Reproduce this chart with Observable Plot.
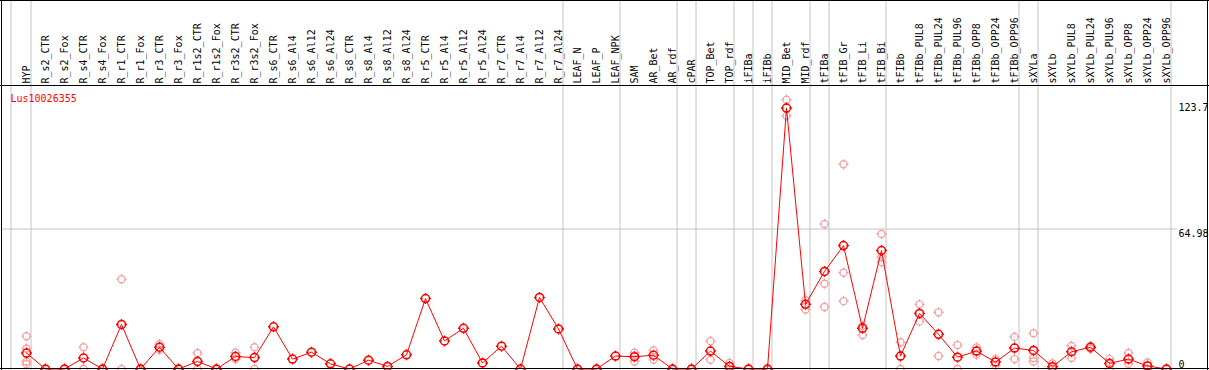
<!DOCTYPE html>
<html><head><meta charset="utf-8">
<script src="https://cdn.jsdelivr.net/npm/d3@7"></script>
<script src="https://cdn.jsdelivr.net/npm/@observablehq/plot@0.6"></script>
<style>body{margin:0;background:#fff;} svg{display:block;}</style>
</head><body><div id="chart"></div>
<script>
const categories = ["HYP","R_s2_CTR","R_s2_Fox","R_s4_CTR","R_s4_Fox","R_r1_CTR","R_r1_Fox","R_r3_CTR","R_r3_Fox","R_r1s2_CTR","R_r1s2_Fox","R_r3s2_CTR","R_r3s2_Fox","R_s6_CTR","R_s6_Al4","R_s6_Al12","R_s6_Al24","R_s8_CTR","R_s8_Al4","R_s8_Al12","R_s8_Al24","R_r5_CTR","R_r5_Al4","R_r5_Al12","R_r5_Al24","R_r7_CTR","R_r7_Al4","R_r7_Al12","R_r7_Al24","LEAF_N","LEAF_P","LEAF_NPK","SAM","AR_Bet","AR_rdf","cPAR","TOP_Bet","TOP_rdf","iFIBa","iFIBb","MID_Bet","MID_rdf","tFIBa","tFIB_Gr","tFIB_Li","tFIB_Bi","tFIBb","tFIBb_PUL8","tFIBb_PUL24","tFIBb_PUL96","tFIBb_OPP8","tFIBb_OPP24","tFIBb_OPP96","sXYLa","sXYLb","sXYLb_PUL8","sXYLb_PUL24","sXYLb_PUL96","sXYLb_OPP8","sXYLb_OPP24","sXYLb_OPP96"];

const means = [7.4,0,0,5.1,0,20.7,0,10.1,0,3.5,0,5.8,5.3,19.6,4.6,7.8,2.4,0,4.1,1.2,6.6,32.7,13.0,18.9,2.8,10.6,0,33.2,18.6,0,0,6.0,5.7,6.4,0,0,8.3,1.2,0,0,121.1,30.0,45.3,57.3,18.9,55.0,6.0,25.8,16.1,5.5,8.3,3.2,9.7,8.6,1.1,8.0,10.1,2.6,4.6,1.4,0];

const replicates = [
  [15.2,9.5,3.5,2.3],[0,0],[0,0],[10.1,0],[0,0],[41.7,0],[0,0],[11.5,8.9],[0,0],[7.4,0],[0,0],[7.6,4.6],[10.1,0],
  [],[],[],[],[],[],[],[],[],[],[],[],[],[],[],[],
  [0,0],[0,0],[],[7.6,5.9,3.5],[8.6,4.3],[0,0],[0,0],[12.9,4.3],[2.8,0],[0,0],[0,0],
  [125.0,117.5],[31.9,27.6],[67.3,39.6,28.8],[95.0,44.7,31.5],[20.0,15.8],[62.7,51.9,49.6],
  [12.4,0],[30.0,22.1],[26.3,6.0],[11.1,0],[10.0,6.7],[4.6,1.7],[14.9,4.6],
  [16.6,5.1,3.5],[2.6,0],[10.7,5.1],[10.7,9.5],[4.7,0],[7.4,2.4],[3.0,0],[0,0]
];

const groupEnds = ["HYP","R_r7_Al24","LEAF_NPK","AR_rdf","cPAR","TOP_rdf","iFIBa","iFIBb","MID_rdf","tFIBa","tFIB_Bi","tFIBb_OPP96","sXYLa","sXYLb_OPP96"];
const groupStart = ["HYP"];
const yTicks = [0, 64.98, 123.7];
const gridTicks = [64.98];
const geneName = "Lus10026355";

const meanData = categories.map((c, i) => ({cat: c, value: means[i]}));
const repData = categories.flatMap((c, i) => replicates[i].map(v => ({cat: c, value: v})));

const spiky = {
  draw(ctx, size) {
    const r = Math.sqrt(size / Math.PI);
    ctx.moveTo(r, 0);
    ctx.arc(0, 0, r, 0, 2 * Math.PI);
    for (const [a, b] of [[1,0],[-1,0],[0,1],[0,-1]]) {
      ctx.moveTo(a * (r - 1), b * (r - 1));
      ctx.lineTo(a * (r + 1.5), b * (r + 1.5));
    }
  }
};

const W = 1209, H = 370;
const gray = "#c4c4c4";
const plot = Plot.plot({
  width: W, height: H,
  marginTop: 85, marginBottom: 1, marginLeft: 1, marginRight: 38,
  x: {type: "point", domain: categories, range: [26, 1166], padding: 0, align: 0.5, axis: null},
  y: {type: "linear", domain: [0, 64.98], range: [368.5, 228.5], axis: null},
  style: {fontFamily: "'DejaVu Sans Mono', monospace", fontSize: "10px", background: "#fff", overflow: "visible"},
  marks: [
    Plot.ruleX(groupEnds, {x: d => d, dx: 4.5, insetTop: -85, insetBottom: -1, stroke: gray}),
    Plot.ruleX(groupStart, {x: d => d, dx: -15.5, insetTop: -85, insetBottom: -1, stroke: gray}),
    Plot.ruleY(gridTicks, {y: d => d, insetRight: -6, stroke: gray}),
    Plot.dot(repData, {x: "cat", y: "value", r: 3.6, symbol: spiky, stroke: "#f0a0a0", fill: "none", strokeWidth: 1.2}),
    Plot.line(meanData, {x: "cat", y: "value", stroke: "#ff0000", strokeWidth: 1}),
    Plot.dot(meanData, {x: "cat", y: "value", r: 4, symbol: spiky, stroke: "#ff0000", fill: "none", strokeWidth: 1.5}),
    Plot.text(categories, {x: d => d, frameAnchor: "top", rotate: -90, textAnchor: "start", lineAnchor: "middle", dy: -2, fill: "black"}),
    Plot.text([geneName], {frameAnchor: "top-left", dx: 9, dy: 9, textAnchor: "start", lineAnchor: "top", fill: "#ff0000"}),
    Plot.text(yTicks.filter(v => v > 0), {y: d => d, text: d => String(d), frameAnchor: "right", textAnchor: "start", dx: 7, lineAnchor: "top", dy: 1, fill: "black"}),
    Plot.text(yTicks.filter(v => v === 0), {y: d => d, text: d => String(d), frameAnchor: "right", textAnchor: "start", dx: 7, lineAnchor: "bottom", dy: -1, fill: "black"})
  ]
});
document.getElementById("chart").appendChild(plot);

// outer border and header separator
const svg = d3.select(plot);
const borders = [
  [0, 0.5, W, 0.5],
  [0, 85.5, W, 85.5],
  [0, 368.5, W, 368.5],
  [1.5, 0, 1.5, H],
  [1207.5, 0, 1207.5, H]
];
svg.append("g").attr("stroke", "black").attr("stroke-width", 1)
  .selectAll("line").data(borders).join("line")
  .attr("x1", d => d[0]).attr("y1", d => d[1]).attr("x2", d => d[2]).attr("y2", d => d[3]);
</script>
</body></html>
